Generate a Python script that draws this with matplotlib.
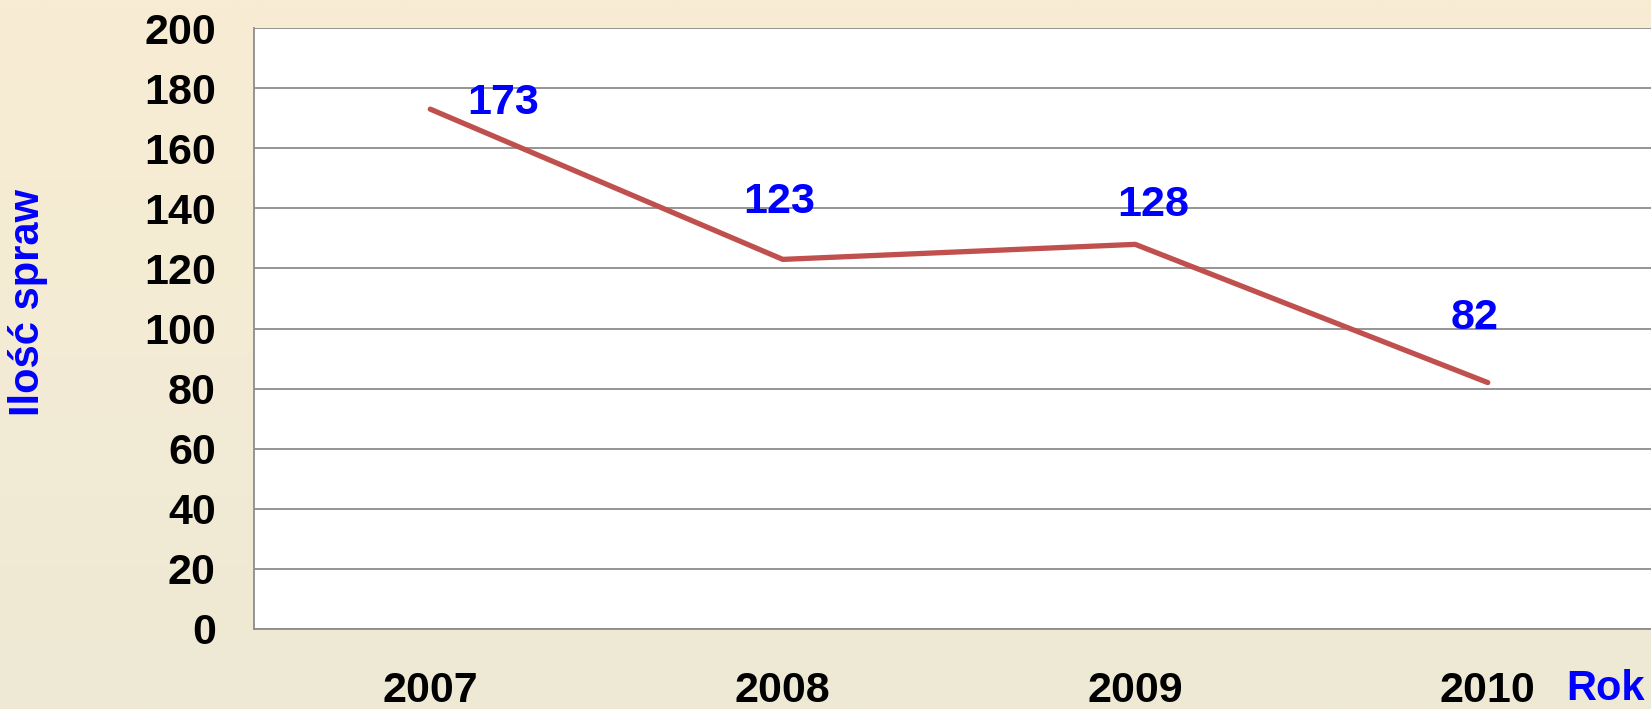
import numpy as np
import matplotlib
matplotlib.use('Agg')
import matplotlib.pyplot as plt
from matplotlib.colors import LinearSegmentedColormap

plt.rcParams['font.family'] = ['Liberation Sans', 'DejaVu Sans']
plt.rcParams['font.weight'] = 'bold'

years = ['2007', '2008', '2009', '2010']
cases = [173, 123, 128, 82]
y_ticks = [0, 20, 40, 60, 80, 100, 120, 140, 160, 180, 200]

# label offsets (pixels) from each point, as placed in the original
label_dx = [73, -4, 18, -13]
label_dy = [6, 57, 39, 65]

W, H = 1651, 709
fig = plt.figure(figsize=(W / 100, H / 100), dpi=100)

# beige vertical gradient background
bg = fig.add_axes([0, 0, 1, 1], zorder=-10)
cmap = LinearSegmentedColormap.from_list('bg', ['#EEE9D5', '#F8EDD3'])
bg.imshow(np.linspace(0, 1, 256)[:, None], aspect='auto', cmap=cmap,
          origin='lower', extent=[0, 1, 0, 1])
bg.axis('off')

ax = fig.add_axes([254 / W, 1 - 629 / H, (1664 - 254) / W, 601 / H])
ax.set_facecolor('white')
x = np.arange(len(years))
ax.plot(x, cases, color='#C0504D', lw=3.8, solid_capstyle='round', zorder=3)

for i, v in enumerate(cases):
    ax.annotate(str(v), (x[i], v), xytext=(label_dx[i], label_dy[i]),
                textcoords='offset pixels', ha='center', va='center',
                color='#0000FF', fontsize=31, fontweight='bold')

ax.set_xlim(-0.5, len(years) - 0.5)
ax.set_ylim(0, 200)
ax.set_yticks(y_ticks)
ax.set_xticks(x)
ax.set_xticklabels(years)
ax.tick_params(axis='y', length=0, pad=27.5, labelsize=31)
ax.tick_params(axis='x', length=0, pad=30.5, labelsize=31)
ax.yaxis.grid(True, color='#8C8C8C', lw=1.3)
ax.set_axisbelow(True)
for s in ('top', 'right'):
    ax.spines[s].set_visible(False)
for s in ('left', 'bottom'):
    ax.spines[s].set_color('#8C8C8C')
    ax.spines[s].set_linewidth(1.3)

fig.text(28 / W, 1 - 302 / H, 'Ilość spraw', rotation=90, ha='center',
         va='center', color='#0000FF', fontsize=30, fontweight='bold')
fig.text(1566 / W, 1 - 689 / H, 'Rok', ha='left', va='center',
         color='#0000FF', fontsize=30, fontweight='bold')

fig.savefig('out.png', dpi=100)
